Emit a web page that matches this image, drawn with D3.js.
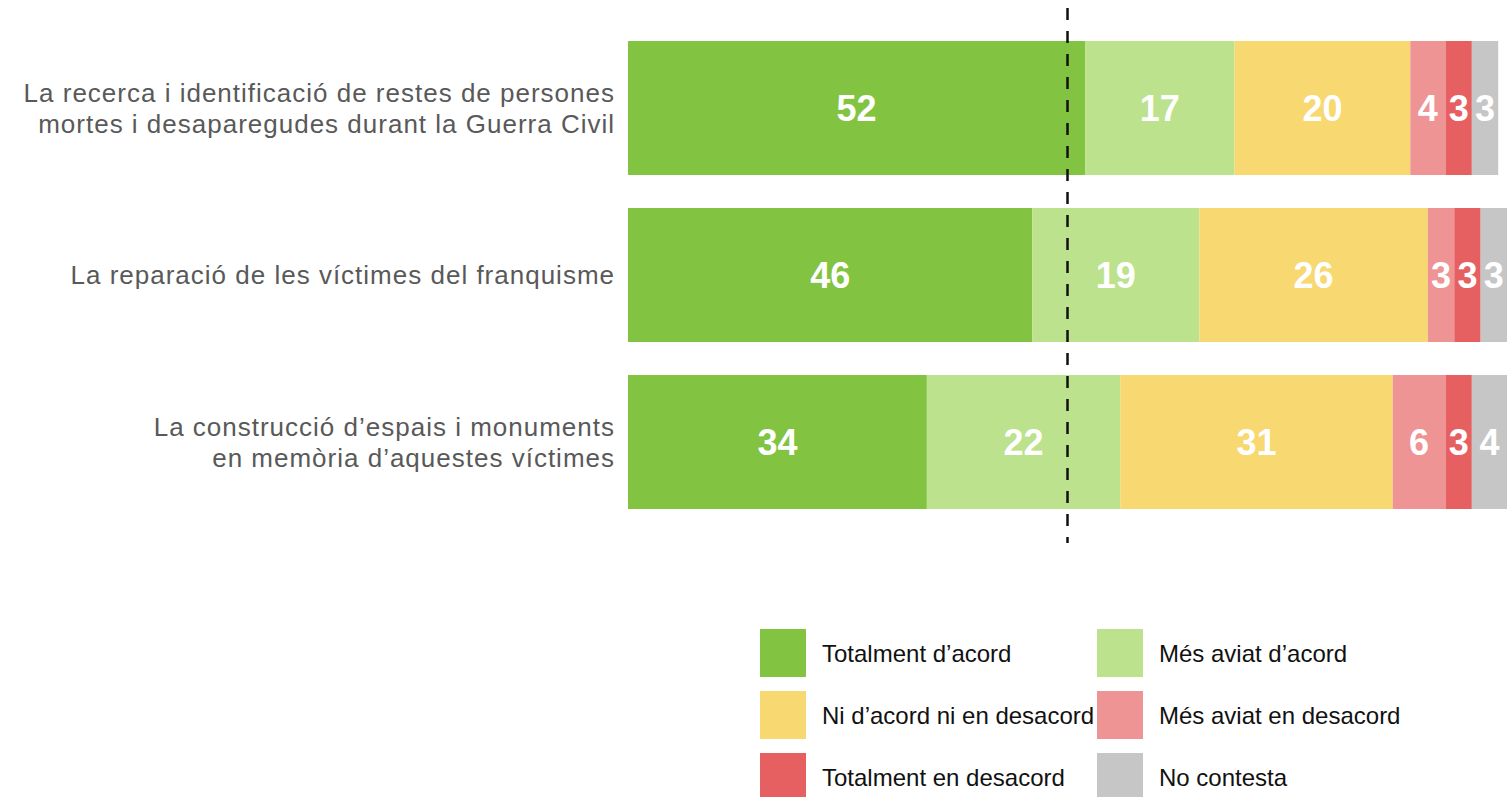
<!DOCTYPE html>
<html>
<head>
<meta charset="utf-8">
<script src="https://cdn.jsdelivr.net/npm/d3@7"></script>
<style>
  body { margin: 0; background: #fff; }
  svg { display: block; font-family: "Liberation Sans", Arial, sans-serif; }
</style>
</head>
<body>
<div id="chart"></div>
<script>
// chart data
const CATEGORIES = [
  ["La recerca i identificació de restes de persones", "mortes i desaparegudes durant la Guerra Civil"],
  ["La reparació de les víctimes del franquisme"],
  ["La construcció d\u2019espais i monuments", "en memòria d\u2019aquestes víctimes"]
];
const SERIES = ["Totalment d\u2019acord", "Més aviat d\u2019acord", "Ni d\u2019acord ni en desacord",
                "Més aviat en desacord", "Totalment en desacord", "No contesta"];
const VALUES = [
  [52, 17, 20, 4, 3, 3],
  [46, 19, 26, 3, 3, 3],
  [34, 22, 31, 6, 3, 4]
];
const COLORS = ["#82c341", "#bce28e", "#f8d871", "#ee9494", "#e66062", "#c6c6c6"];
const MIDLINE = 50;

// frame
const FRAME_WIDTH = 1511;
const FRAME_HEIGHT = 797;

const svg = d3.select("#chart")
  .append("svg")
    .attr("width", FRAME_WIDTH)
    .attr("height", FRAME_HEIGHT);

// scales
const xScale = d3.scaleLinear().domain([0, 100]).range([628, 1507]);
const yScale = d3.scaleBand()
  .domain(d3.range(CATEGORIES.length))
  .range([24.5, 525.5])
  .paddingInner(33 / 167)
  .paddingOuter(33 / 334);
const color = d3.scaleOrdinal().domain(SERIES).range(COLORS);

// stack the rows
const rows = VALUES.map(function(v, i) {
  let acc = 0;
  return v.map(function(val, j) {
    const seg = {row: i, key: SERIES[j], value: val, x0: acc, x1: acc + val};
    acc += val;
    return seg;
  });
});

const barG = svg.append("g");
rows.forEach(function(segs) {
  const g = barG.append("g");
  g.selectAll("rect")
    .data(segs)
    .enter()
    .append("rect")
      .attr("x", d => xScale(d.x0))
      .attr("y", d => yScale(d.row))
      .attr("width", d => xScale(d.x1) - xScale(d.x0))
      .attr("height", yScale.bandwidth())
      .attr("fill", d => color(d.key));

  g.selectAll("text")
    .data(segs)
    .enter()
    .append("text")
      .attr("x", d => (xScale(d.x0) + xScale(d.x1)) / 2)
      .attr("y", d => yScale(d.row) + yScale.bandwidth() / 2)
      .attr("dy", "0.36em")
      .attr("text-anchor", "middle")
      .attr("fill", "#fff")
      .attr("font-weight", "bold")
      .attr("font-size", 36)
      .text(d => d.value);
});

// category labels
const labelG = svg.append("g");
CATEGORIES.forEach(function(lines, i) {
  const cy = yScale(i) + yScale.bandwidth() / 2;
  const t = labelG.append("text")
    .attr("text-anchor", "end")
    .attr("fill", "#595959")
    .attr("font-size", 26)
    .attr("letter-spacing", 1);
  lines.forEach(function(line, k) {
    t.append("tspan")
      .attr("x", 615)
      .attr("y", cy + (k - (lines.length - 1) / 2) * 31)
      .attr("dy", "0.35em")
      .text(line);
  });
});

// dashed line at 50%
svg.append("line")
  .attr("x1", xScale(MIDLINE))
  .attr("x2", xScale(MIDLINE))
  .attr("y1", 8)
  .attr("y2", 543)
  .attr("stroke", "#111")
  .attr("stroke-width", 2.5)
  .attr("stroke-dasharray", "12,11");

// legend
const legend = svg.append("g");
SERIES.forEach(function(s, i) {
  const col = i % 2, row = Math.floor(i / 2);
  const lx = 760 + col * 337;
  const ly = 629 + row * 62;
  legend.append("rect")
    .attr("x", lx)
    .attr("y", ly)
    .attr("width", 46)
    .attr("height", 48)
    .attr("fill", color(s));
  legend.append("text")
    .attr("x", lx + 62)
    .attr("y", ly + 25)
    .attr("dy", "0.35em")
    .attr("font-size", 24)
    .attr("fill", "#111")
    .text(s);
});
</script>
</body>
</html>
